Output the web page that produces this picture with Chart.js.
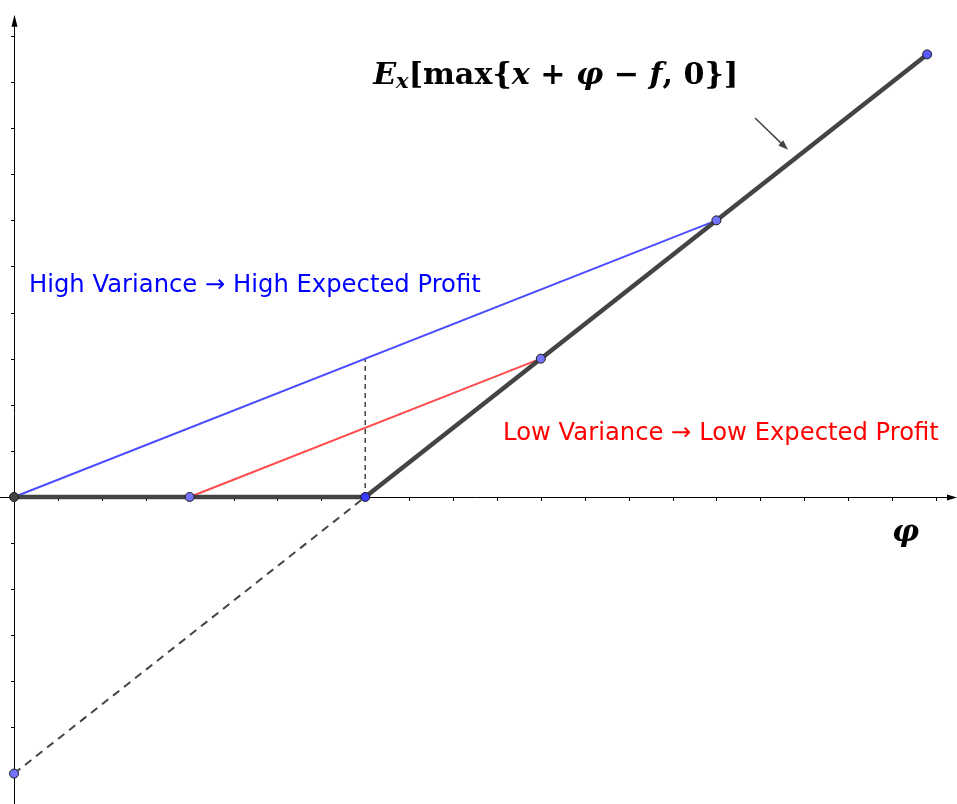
<!DOCTYPE html>
<html>
<head>
<meta charset="utf-8">
<script src="https://cdn.jsdelivr.net/npm/chart.js@4.4.1/dist/chart.umd.min.js"></script>
<style>
    body { margin: 0; background: #fff; }
    #wrap { width: 957px; height: 804px; }
</style>
</head>
<body>
<div id="wrap"><canvas id="myChart"></canvas></div>
<script>
// payoff curve E_x[max{x + phi - f, 0}]
var payoffX = [0, 8, 20.8];
var payoffY = [0, 0, 9.6];
// chords
var highVarX = [0, 16];
var highVarY = [0, 6];
var lowVarX = [4, 12];
var lowVarY = [0, 3];
// dashed helpers
var dropX = [8, 8];
var dropY = [0, 3];
var extX = [0, 8];
var extY = [-6, 0];
// marked points
var pointX = [0, 4, 8, 12, 16, 20.8, 0];
var pointY = [0, 0, 0, 3, 6, 9.6, -6];
var xTicks = [1, 2, 3, 4, 5, 6, 7, 8, 9, 10, 11, 12, 13, 14, 15, 16, 17, 18, 19, 20, 21];
var yTicks = [-6, -5, -4, -3, -2, -1, 1, 2, 3, 4, 5, 6, 7, 8, 9, 10];

function pts(xs, ys) {
    return xs.map(function (x, i) { return {x: x, y: ys[i]}; });
}

var ctx = document.getElementById("myChart").getContext("2d");

var axesPlugin = {
    id: 'axes',
    beforeDatasetsDraw: function (chart) {
        var c = chart.ctx, xs = chart.scales.x, ys = chart.scales.y;
        var x0 = Math.round(xs.getPixelForValue(0)), y0 = Math.round(ys.getPixelForValue(0));
        var area = chart.chartArea;
        var top = ys.getPixelForValue(10.46);
        c.save();
        c.strokeStyle = '#000';
        c.fillStyle = '#000';
        c.lineWidth = 1;
        c.beginPath();
        c.moveTo(area.left, y0 + 0.5);
        c.lineTo(area.right - 4, y0 + 0.5);
        c.moveTo(x0 + 0.5, area.bottom);
        c.lineTo(x0 + 0.5, top + 8);
        xTicks.forEach(function (t) {
            var px = Math.round(xs.getPixelForValue(t)) + 0.5;
            c.moveTo(px, y0);
            c.lineTo(px, y0 + 4);
        });
        yTicks.forEach(function (t) {
            var py = Math.round(ys.getPixelForValue(t)) + 0.5;
            c.moveTo(x0 - 3, py);
            c.lineTo(x0, py);
        });
        c.stroke();
        // arrow heads
        c.beginPath();
        c.moveTo(x0 + 0.5, top);
        c.lineTo(x0 - 2.5, top + 12);
        c.lineTo(x0 + 3.5, top + 12);
        c.closePath();
        c.fill();
        c.beginPath();
        c.moveTo(area.right, y0 + 0.5);
        c.lineTo(area.right - 10, y0 - 2.5);
        c.lineTo(area.right - 10, y0 + 3.5);
        c.closePath();
        c.fill();
        c.restore();
    },
    afterDraw: function (chart) {
        var c = chart.ctx, xs = chart.scales.x, ys = chart.scales.y;
        c.save();
        c.textBaseline = 'alphabetic';
        c.font = '22px "DejaVu Sans"';
        c.fillStyle = '#0000ff';
        var t1 = 'High Variance \u2192 High Expected Profit';
        var w1 = c.measureText(t1).width;
        c.font = (22 * 452 / w1).toFixed(2) + 'px "DejaVu Sans"';
        c.fillText(t1, xs.getPixelForValue(0.34), ys.getPixelForValue(4.45));
        c.fillStyle = '#ff0000';
        var t2 = 'Low Variance \u2192 Low Expected Profit';
        c.fillText(t2, xs.getPixelForValue(11.14), ys.getPixelForValue(1.24));

        // formula
        var serif = '"DejaVu Serif"';
        var parts = [
            ['E', 'bold italic 30px ' + serif, 0],
            ['x', 'bold italic 21px ' + serif, 4],
            ['[max{', 'bold 30px ' + serif, 0],
            ['x', 'bold italic 30px ' + serif, 0],
            [' + ', 'bold 30px ' + serif, 0],
            ['\u03c6', 'bold italic 30px ' + serif, 0],
            [' \u2212 ', 'bold 30px ' + serif, 0],
            ['f', 'bold italic 30px ' + serif, 0],
            [', 0}]', 'bold 30px ' + serif, 0]
        ];
        var total = 0;
        parts.forEach(function (p) {
            c.font = p[1];
            total += c.measureText(p[0]).width;
        });
        var fx = xs.getPixelForValue(8.18), fy = ys.getPixelForValue(8.96);
        var sx = 365 / total;
        c.save();
        c.translate(fx, fy);
        c.scale(sx, 1);
        c.fillStyle = '#000';
        var cx = 0;
        parts.forEach(function (p) {
            c.font = p[1];
            c.fillText(p[0], cx, p[2]);
            cx += c.measureText(p[0]).width;
        });
        c.restore();

        // axis label
        c.fillStyle = '#000';
        c.font = 'bold italic 30px "DejaVu Serif"';
        c.fillText('\u03c6', xs.getPixelForValue(20.0), ys.getPixelForValue(-0.95));

        // pointer arrow
        var ax = xs.getPixelForValue(16.88), ay = ys.getPixelForValue(8.22);
        var bx = xs.getPixelForValue(17.63), by = ys.getPixelForValue(7.53);
        var ang = Math.atan2(by - ay, bx - ax);
        c.strokeStyle = '#444';
        c.fillStyle = '#444';
        c.lineWidth = 1.5;
        c.beginPath();
        c.moveTo(ax, ay);
        c.lineTo(bx - 6 * Math.cos(ang), by - 6 * Math.sin(ang));
        c.stroke();
        c.beginPath();
        c.moveTo(bx, by);
        c.lineTo(bx - 10 * Math.cos(ang) + 3.5 * Math.sin(ang), by - 10 * Math.sin(ang) - 3.5 * Math.cos(ang));
        c.lineTo(bx - 10 * Math.cos(ang) - 3.5 * Math.sin(ang), by - 10 * Math.sin(ang) + 3.5 * Math.cos(ang));
        c.closePath();
        c.fill();
        c.restore();
    }
};

var myChart = new Chart(ctx, {
    type: 'scatter',
    data: {
        datasets: [
            {
                label: 'points',
                data: pts(pointX, pointY),
                pointRadius: 4.5,
                pointBackgroundColor: ['#444444', '#7373ff', '#3b3bff', '#7373ff', '#7373ff', '#5a5aff', '#7373ff'],
                pointBorderColor: '#1a1a1a',
                pointBorderWidth: 1,
                order: 0
            }, {
                label: 'payoff',
                data: pts(payoffX, payoffY),
                showLine: true,
                borderColor: '#444444',
                borderWidth: 4.5,
                pointRadius: 0,
                order: 1
            }, {
                label: 'low variance',
                data: pts(lowVarX, lowVarY),
                showLine: true,
                borderColor: '#ff4d4d',
                borderWidth: 2,
                pointRadius: 0,
                order: 2
            }, {
                label: 'high variance',
                data: pts(highVarX, highVarY),
                showLine: true,
                borderColor: '#4d4dff',
                borderWidth: 2,
                pointRadius: 0,
                order: 3
            }, {
                label: 'drop',
                data: pts(dropX, dropY),
                showLine: true,
                borderColor: '#444444',
                borderWidth: 1.5,
                borderDash: [5, 4],
                pointRadius: 0,
                order: 4
            }, {
                label: 'extension',
                data: pts(extX, extY),
                showLine: true,
                borderColor: '#444444',
                borderWidth: 2,
                borderDash: [8, 6],
                pointRadius: 0,
                order: 5
            }
        ]
    },
    options: {
        responsive: true,
        maintainAspectRatio: false,
        animation: false,
        layout: {padding: 0, autoPadding: false},
        plugins: {
            legend: {display: false},
            tooltip: {enabled: false}
        },
        scales: {
            x: {type: 'linear', min: -0.32, max: 21.48, display: false},
            y: {type: 'linear', min: -6.66, max: 10.78, display: false}
        }
    },
    plugins: [axesPlugin]
});
</script>
</body>
</html>
